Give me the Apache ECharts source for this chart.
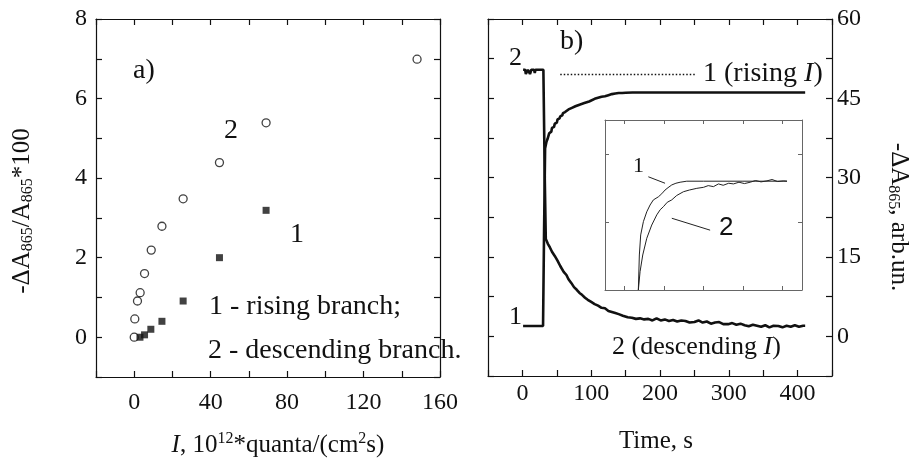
<!DOCTYPE html>
<html>
<head>
<meta charset="utf-8">
<script src="https://cdn.jsdelivr.net/npm/echarts@6/dist/echarts.min.js"></script>
<style>html,body{margin:0;padding:0;background:#fff}#c{width:913px;height:464px}</style>
</head>
<body>
<div id="c"></div>
<script>
// ---- Panel a) : -dA865/A865*100 vs light intensity I ----
const intensityRising = [3, 5.4, 8.7, 14.5, 25.6, 44.6, 69];
const signalRising    = [0, 0.06, 0.2, 0.4, 0.91, 2.0, 3.19];
const intensityDesc   = [0, 0.3, 1.7, 3.1, 5.4, 8.9, 14.5, 25.6, 44.6, 69, 148];
const signalDesc      = [0, 0.46, 0.91, 1.12, 1.6, 2.19, 2.79, 3.48, 4.39, 5.39, 6.99];
const xTicksA = [0, 40, 80, 120, 160];
const yTicksA = [0, 2, 4, 6, 8];

// ---- Panel b) : kinetics ----
const risingT = [1, 30, 31.5, 33, 35, 36.5, 38, 39, 42, 43, 46, 47, 50, 51, 54, 55, 58, 59, 62, 63, 67, 68, 72, 73, 77, 78, 83, 84, 90, 91, 97, 98, 105, 110, 115, 120, 125, 130, 135, 140, 145, 150, 160, 170, 200, 250, 300, 350, 411];
const risingV = [1.95, 1.95, 20, 35.5, 36.8, 37.3, 37.6, 38.4, 38.7, 39.4, 39.6, 40.2, 40.4, 41.0, 41.2, 41.6, 41.8, 42.2, 42.4, 42.7, 42.9, 43.1, 43.2, 43.4, 43.5, 43.7, 43.8, 44.0, 44.1, 44.3, 44.4, 44.6, 44.9, 45.1, 45.3, 45.4, 45.6, 45.8, 45.9, 46.0, 46.0, 46.05, 46.1, 46.1, 46.1, 46.1, 46.1, 46.1, 46.1];
const descT = [1, 4, 5, 7, 8, 10, 11, 12, 13, 17, 18, 19, 30.5, 32.5, 34, 37, 40, 43, 47, 51, 55, 60, 64, 67, 71, 75, 79, 83, 87, 91, 95, 100, 105, 110, 115, 120, 125, 130, 135, 140, 146, 153, 159, 165, 171, 177, 183, 189, 195, 201, 207, 213, 219, 225, 231, 237, 243, 250, 256, 262, 268, 274, 280, 286, 292, 299, 305, 311, 317, 323, 329, 335, 341, 347, 353, 359, 365, 372, 378, 384, 390, 396, 402, 408, 411];
const descV = [50.4, 50.4, 49.6, 49.6, 50.4, 50.4, 49.6, 49.6, 50.4, 50.4, 49.8, 50.4, 50.4, 30, 18.4, 17.5, 16.8, 16.0, 15.2, 14.3, 13.3, 12.2, 11.6, 10.8, 10.1, 9.3, 8.8, 8.2, 7.8, 7.3, 6.9, 6.5, 6.1, 5.8, 5.4, 5.3, 4.8, 4.6, 4.4, 4.2, 3.9, 3.6, 3.5, 3.3, 3.4, 3.2, 3.3, 3.0, 3.4, 3.0, 3.2, 2.9, 3.1, 2.8, 3.0, 2.9, 2.6, 2.7, 3.0, 2.6, 2.8, 2.4, 2.6, 2.7, 2.3, 2.3, 2.5, 2.2, 2.4, 2.1, 1.9, 2.2, 2.0, 1.8, 2.1, 1.7, 2.0, 1.95, 1.7, 2.0, 1.8, 2.1, 1.8, 2.0, 2.0];
const xTicksB = [0, 100, 200, 300, 400];
const yTicksB = [0, 15, 30, 45, 60];
const dottedLeader = [[55, 49.6], [252, 49.6]];

// ---- Inset (arbitrary units, no labels) ----
const inset1T = [17.3, 18.6, 20.3, 23.7, 28, 32.2, 36.4, 42.7, 47, 51.2, 55, 59.7, 65, 70.3, 78.8, 100, 150, 206];
const inset1V = [0, 10.3, 16.2, 20.1, 23, 25, 26.5, 27.4, 28.3, 29.4, 30.1, 30.9, 31.4, 31.7, 32, 32, 32, 32];
const inset2T = [17.3, 19.5, 22.9, 28, 34.3, 40.7, 45, 49.1, 54, 59.7, 66, 74.5, 82, 91.5, 100, 106, 112.6, 119, 125, 132, 138, 145, 152, 159.2, 166, 173, 180.5, 187, 194, 201.6, 206];
const inset2V = [0, 5.4, 10.3, 15.2, 19.1, 22.1, 23.6, 24.5, 25.8, 26.5, 27.8, 28.9, 29.4, 29.9, 30.2, 30.7, 30.4, 31.2, 30.8, 31.4, 31.2, 31.7, 31.3, 31.7, 32.2, 31.8, 32.1, 32.5, 31.9, 32.1, 32.0];
const insetLeader1 = [[30.0, 33.3], [51.2, 31.4]];
const insetLeader2 = [[59.8, 21.1], [108.4, 17.6]];

const zip = (a, b) => a.map((v, i) => [v, b[i]]);
const SERIF = "'Liberation Serif','Times New Roman',serif";
const SANS = "'Liberation Sans',Arial,sans-serif";
const INK = '#111';

function axisBase(extra) {
  return Object.assign({
    type: 'value',
    axisLine: { show: true, onZero: false, lineStyle: { color: INK, width: 1.2 } },
    axisTick: { show: true, inside: true, length: 6, lineStyle: { color: INK, width: 1.2 } },
    axisLabel: { show: false },
    splitLine: { show: false }
  }, extra);
}
function labelled(values, margin) {
  return { show: true, customValues: values, color: INK, fontFamily: SERIF, fontSize: 24, margin: margin };
}
function insetAxis(extra, ticks) {
  return Object.assign({
    type: 'value',
    axisLine: { show: true, onZero: false, lineStyle: { color: '#666', width: 1 } },
    axisTick: { show: true, inside: true, length: 4, customValues: ticks, lineStyle: { color: '#666', width: 1 } },
    axisLabel: { show: false },
    splitLine: { show: false }
  }, extra);
}

const chart = echarts.init(document.getElementById('c'), null, { renderer: 'canvas' });

const txt = (text, x, y, size, opts) => Object.assign({
  type: 'text', x: x, y: y, silent: true,
  style: Object.assign({ text: text, fill: INK, font: size + 'px ' + SERIF, align: 'left', verticalAlign: 'middle' }, (opts && opts.style) || {})
}, opts && opts.rotation !== undefined ? { rotation: opts.rotation } : {});

const richMain = (size) => ({ fontFamily: SERIF, fontSize: size, lineHeight: 30, verticalAlign: 'middle', fill: INK, color: INK });

const option = {
  animation: false,
  backgroundColor: '#fff',
  grid: [
    { left: 96, top: 19, width: 344, height: 358 },
    { left: 488, top: 19, width: 344, height: 357 },
    { left: 605, top: 120, width: 197, height: 170 }
  ],
  xAxis: [
    axisBase({ gridIndex: 0, position: 'bottom', min: -20, max: 160, interval: 20, axisLabel: labelled(xTicksA, 14) }),
    axisBase({ gridIndex: 0, position: 'top', min: -20, max: 160, interval: 20 }),
    axisBase({ gridIndex: 1, position: 'bottom', min: -50, max: 450, interval: 50, axisLabel: labelled(xTicksB, 6) }),
    axisBase({ gridIndex: 1, position: 'top', min: -50, max: 450, interval: 50 }),
    insetAxis({ gridIndex: 2, position: 'bottom', min: -25, max: 225 }, [0, 50, 100, 150, 200]),
    insetAxis({ gridIndex: 2, position: 'top', min: -25, max: 225 }, [0, 50, 100, 150, 200])
  ],
  yAxis: [
    axisBase({ gridIndex: 0, position: 'left', min: -1, max: 8, interval: 1, axisLabel: labelled(yTicksA, 9) }),
    axisBase({ gridIndex: 0, position: 'right', min: -1, max: 8, interval: 1 }),
    axisBase({ gridIndex: 1, position: 'left', min: -7.5, max: 60, interval: 7.5 }),
    axisBase({ gridIndex: 1, position: 'right', min: -7.5, max: 60, interval: 7.5, axisLabel: labelled(yTicksB, 5) }),
    insetAxis({ gridIndex: 2, position: 'left', min: 0, max: 50 }, [20, 40]),
    insetAxis({ gridIndex: 2, position: 'right', min: 0, max: 50 }, [20, 40])
  ],
  series: [
    {
      name: '2 - descending branch', type: 'scatter', xAxisIndex: 0, yAxisIndex: 0,
      data: zip(intensityDesc, signalDesc), symbol: 'circle', symbolSize: 8,
      itemStyle: { color: '#fff', borderColor: INK, borderWidth: 1.3 }
    },
    {
      name: '1 - rising branch', type: 'scatter', xAxisIndex: 0, yAxisIndex: 0,
      data: zip(intensityRising, signalRising), symbol: 'rect', symbolSize: 7,
      itemStyle: { color: INK }
    },
    {
      name: '1 (rising I)', type: 'line', xAxisIndex: 2, yAxisIndex: 3,
      data: zip(risingT, risingV), showSymbol: false, symbol: 'none',
      lineStyle: { color: INK, width: 2.6 },
      markLine: {
        silent: true, symbol: 'none', label: { show: false },
        lineStyle: { color: INK, type: [1.5, 2], width: 1.3 },
        data: [[{ coord: dottedLeader[0] }, { coord: dottedLeader[1] }]]
      }
    },
    {
      name: '2 (descending I)', type: 'line', xAxisIndex: 2, yAxisIndex: 3,
      data: zip(descT, descV), showSymbol: false, symbol: 'none',
      lineStyle: { color: INK, width: 2.6 }
    },
    {
      name: 'inset 1', type: 'line', xAxisIndex: 4, yAxisIndex: 4,
      data: zip(inset1T, inset1V), showSymbol: false, symbol: 'none',
      lineStyle: { color: '#222', width: 1 },
      markLine: {
        silent: true, symbol: 'none', label: { show: false },
        lineStyle: { color: '#222', type: 'solid', width: 1 },
        data: [
          [{ coord: insetLeader1[0] }, { coord: insetLeader1[1] }],
          [{ coord: insetLeader2[0] }, { coord: insetLeader2[1] }]
        ]
      }
    },
    {
      name: 'inset 2', type: 'line', xAxisIndex: 4, yAxisIndex: 4,
      data: zip(inset2T, inset2V), showSymbol: false, symbol: 'none',
      lineStyle: { color: '#222', width: 1 }
    }
  ],
  graphic: [
    txt('a)', 133, 71, 28),
    txt('2', 224, 131, 28),
    txt('1', 290, 235, 28),
    txt('1 - rising branch;', 209, 307, 28),
    txt('2 - descending branch.', 208, 351, 28),
    txt('b)', 560, 42, 28),
    txt('2', 509, 58, 26),
    txt('1', 509, 317, 26),
    {
      type: 'text', x: 703, y: 74, silent: true,
      style: { text: '{r|1 (rising }{i|I}{r|)}', align: 'left', verticalAlign: 'middle',
        rich: { r: richMain(28), i: Object.assign(richMain(28), { fontStyle: 'italic' }) } }
    },
    {
      type: 'text', x: 612, y: 347, silent: true,
      style: { text: '{r|2 (descending }{i|I}{r|)}', align: 'left', verticalAlign: 'middle',
        rich: { r: richMain(26), i: Object.assign(richMain(26), { fontStyle: 'italic' }) } }
    },
    txt('1', 633, 166, 22),
    { type: 'text', x: 719, y: 228, silent: true,
      style: { text: '2', fill: INK, font: '26px ' + SANS, align: 'left', verticalAlign: 'middle' } },
    // axis titles
    {
      type: 'text', x: 22, y: 211, rotation: Math.PI / 2, silent: true,
      style: {
        text: '{m|-ΔA}{s|865}{m|/A}{s|865}{m|*100}', align: 'center', verticalAlign: 'middle',
        rich: {
          m: { fontFamily: SERIF, fontSize: 25, lineHeight: 28, verticalAlign: 'middle', fill: INK },
          s: { fontFamily: SERIF, fontSize: 16, lineHeight: 16, verticalAlign: 'bottom', fill: INK }
        }
      }
    },
    {
      type: 'text', x: 899, y: 217, rotation: -Math.PI / 2, silent: true,
      style: {
        text: '{m|-ΔA}{s|865}{m|, arb.un.}', align: 'center', verticalAlign: 'middle',
        rich: {
          m: { fontFamily: SERIF, fontSize: 25, lineHeight: 28, verticalAlign: 'middle', fill: INK },
          s: { fontFamily: SERIF, fontSize: 16, lineHeight: 16, verticalAlign: 'bottom', fill: INK }
        }
      }
    },
    {
      type: 'text', x: 278, y: 445, silent: true,
      style: {
        text: '{i|I}{m|, 10}{p|12}{m|*quanta/(cm}{p|2}{m|s)}', align: 'center', verticalAlign: 'middle',
        rich: {
          m: { fontFamily: SERIF, fontSize: 25, lineHeight: 28, verticalAlign: 'middle', fill: INK },
          i: { fontFamily: SERIF, fontSize: 25, lineHeight: 28, verticalAlign: 'middle', fontStyle: 'italic', fill: INK },
          p: { fontFamily: SERIF, fontSize: 16, lineHeight: 16, verticalAlign: 'top', fill: INK }
        }
      }
    },
    txt('Time, s', 656, 441, 25, { style: { align: 'center' } })
  ]
};
chart.setOption(option);
</script>
</body>
</html>
